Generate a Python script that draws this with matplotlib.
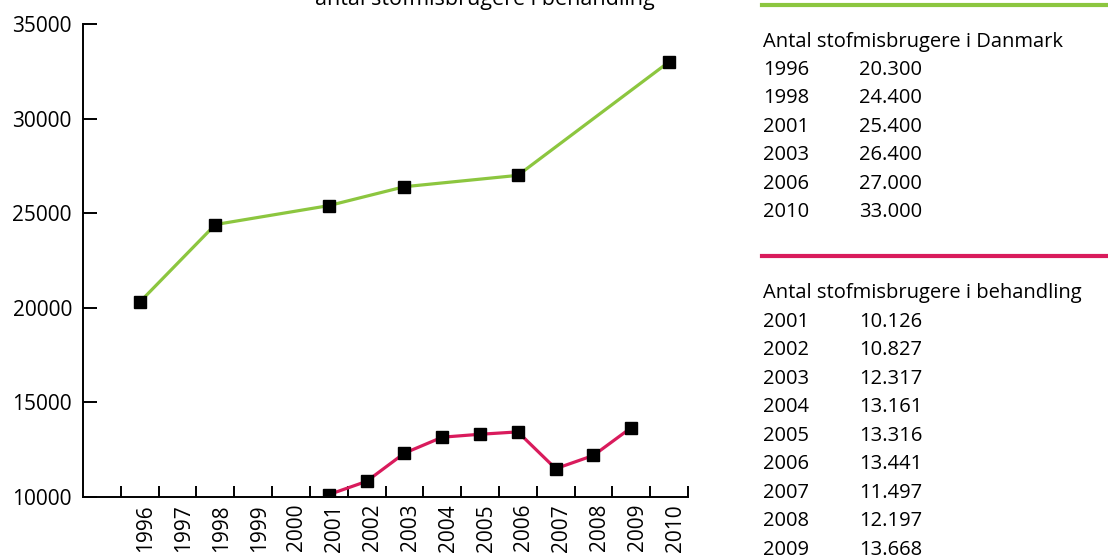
import matplotlib.pyplot as plt
from matplotlib.lines import Line2D
from matplotlib.transforms import ScaledTranslation

# data
years = list(range(1996, 2011))
dk_years = [1996, 1998, 2001, 2003, 2006, 2010]
dk_values = [20300, 24400, 25400, 26400, 27000, 33000]
beh_years = [2001, 2002, 2003, 2004, 2005, 2006, 2007, 2008, 2009]
beh_values = [10126, 10827, 12317, 13161, 13316, 13441, 11497, 12197, 13668]
dk_labels = ["20.300", "24.400", "25.400", "26.400", "27.000", "33.000"]
beh_labels = ["10.126", "10.827", "12.317", "13.161", "13.316",
              "13.441", "11.497", "12.197", "13.668"]

green = "#8cc63f"
pink = "#d91b5c"
W, H = 1108, 559

plt.rcParams['font.family'] = ['Open Sans', 'DejaVu Sans']
fig = plt.figure(figsize=(W / 100, H / 100), dpi=100)
ax = fig.add_axes([83 / W, 1 - 497 / H, (688 - 83) / W, (497 - 24) / H])

ax.plot(dk_years, dk_values, color=green, lw=2.3, marker='s', ms=9,
        mfc='black', mec='black', zorder=3)
ax.plot(beh_years, beh_values, color=pink, lw=2.3, marker='s', ms=9,
        mfc='black', mec='black', zorder=3)

ax.set_xlim(1994.5, 2010.5)
ax.set_ylim(10000, 35000)
ax.spines['top'].set_visible(False)
ax.spines['right'].set_visible(False)
for s in ('left', 'bottom'):
    ax.spines[s].set_linewidth(1.4)

ax.set_yticks([10000, 15000, 20000, 25000, 30000, 35000])
ax.set_yticklabels(['10000', '15000', '20000', '25000', '30000', '35000'])
ax.tick_params(axis='y', direction='in', length=10, width=1.4, pad=8,
               labelsize=15)

# ticks sit between the years, labels on the years
ax.set_xticks([y + 0.5 for y in range(1995, 2011)])
ax.set_xticklabels([])
ax.set_xticks(years, minor=True)
ax.set_xticklabels([str(y) for y in years], minor=True, rotation=90)
ax.tick_params(axis='x', which='major', direction='in', length=8, width=1.4)
ax.tick_params(axis='x', which='minor', length=0, pad=5, labelsize=15)
shift = ScaledTranslation(6 / 100, 0, fig.dpi_scale_trans)
for lab in ax.get_xticklabels(minor=True):
    lab.set_transform(lab.get_transform() + shift)

# title that is cut off at the top, as in the original
fig.text(655 / W, 1 - 5 / H, "antal stofmisbrugere i behandling",
         ha='right', va='baseline', fontsize=15.5)

# right hand tables
fig.add_artist(Line2D([762 / W, 1], [1 - 5 / H, 1 - 5 / H], color=green, lw=3))
fig.add_artist(Line2D([762 / W, 1], [1 - 256 / H, 1 - 256 / H], color=pink, lw=3))

fs = 14.5
step = 28.45
fig.text(763 / W, 1 - 42 / H, "Antal stofmisbrugere i Danmark",
         va='center', fontsize=fs)
for i, (y, v) in enumerate(zip(dk_years, dk_labels)):
    yy = 1 - (70 + i * step) / H
    fig.text(763 / W, yy, str(y), va='center', fontsize=fs)
    fig.text(859 / W, yy, v, va='center', fontsize=fs)

fig.text(763 / W, 1 - 293 / H, "Antal stofmisbrugere i behandling",
         va='center', fontsize=fs)
for i, (y, v) in enumerate(zip(beh_years, beh_labels)):
    yy = 1 - (322 + i * step) / H
    fig.text(763 / W, yy, str(y), va='center', fontsize=fs)
    fig.text(859 / W, yy, v, va='center', fontsize=fs)

fig.savefig("out.png", dpi=100)
